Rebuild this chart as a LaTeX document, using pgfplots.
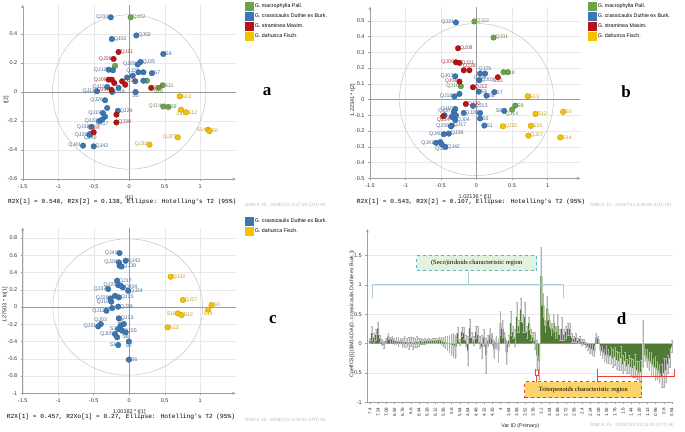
\documentclass[border=0pt]{standalone}
\usepackage{pgfplots}
\usepackage{pgfplotstable}
\pgfplotsset{compat=1.18}
\usetikzlibrary{arrows.meta}
\usepackage{fontspec}
\setmainfont{Liberation Sans}
\newfontfamily\monof{Liberation Mono}
\newfontfamily\serf{Liberation Serif}

\definecolor{cgreen}{HTML}{6DA34D}
\definecolor{cblue}{HTML}{3A78B5}
\definecolor{cred}{HTML}{B81414}
\definecolor{cyel}{HTML}{F5C200}
\definecolor{lgreen}{HTML}{5E8C45}
\definecolor{lblue}{HTML}{4C6C96}
\definecolor{lred}{HTML}{A83A3A}
\definecolor{lyel}{HTML}{C99C1A}
\definecolor{barg}{HTML}{4F7A33}
\definecolor{secofill}{HTML}{E4F1DC}
\definecolor{secoline}{HTML}{4DB6E2}
\definecolor{secobr}{HTML}{A9CFD8}
\definecolor{trifill}{HTML}{FCD46A}
\definecolor{triline}{HTML}{E8413A}

\pgfplotsset{
  score/.style={
    scale only axis, anchor=south west,
    axis lines=left,
    axis line style={draw=gray!75, -{Stealth[length=3.5pt,width=3pt]}},
    every tick/.style={gray!75, thin}, tick align=outside, major tick length=2pt,
    grid=major, grid style={gray!18, line width=0.3pt},
    tick label style={font=\fontsize{5.5}{6}\selectfont, text=black!80},
    /pgf/number format/assume math mode=true,
    label style={font=\fontsize{5.5}{6}\selectfont, text=black!85},
    clip=false,
    legend style={draw=none, fill=none, font=\fontsize{5.3}{6}\selectfont, anchor=north west, row sep=1.6pt, inner sep=0pt, nodes={inner sep=1.2pt}},
    legend cell align=left,
  },
  grp/.style 2 args={only marks, mark=*, mark size=2.8pt,
    mark options={fill=#1, draw=#1!75!black, line width=0.3pt},
    nodes near coords, point meta=explicit symbolic,
    visualization depends on={value \thisrow{a}\as\anc},
    nodes near coords style={anchor=\anc, text=#2, font=\fontsize{5.3}{6}\selectfont, inner sep=1.8pt},
    legend image code/.code={\fill[#1] (0pt,-4pt) rectangle (8pt,4pt);}},
}

\pgfplotstableread{
i v e
0 0.05 0.05
1 0.18 0.12
2 0.10 0.08
3 0.15 0.10
4 0.26 0.10
5 0.08 0.06
6 0.02 0.05
7 -0.02 0.06
8 0.05 0.05
9 0.12 0.05
10 0.06 0.05
11 0.08 0.05
12 0.04 0.05
13 0.05 0.06
14 0.03 0.08
15 0.05 0.05
16 0.02 0.08
17 0.03 0.10
18 0.02 0.08
19 0.01 0.10
20 0.03 0.08
21 0.01 0.10
22 0.02 0.08
23 0.03 0.09
24 0.02 0.07
25 0.04 0.05
26 0.03 0.04
27 0.04 0.05
28 0.04 0.04
29 0.05 0.05
30 0.04 0.04
31 0.05 0.05
32 0.05 0.04
33 0.05 0.05
34 0.06 0.05
35 0.05 0.06
36 0.03 0.08
37 0.02 0.10
38 0.01 0.12
39 0.00 0.15
40 -0.02 0.18
41 -0.03 0.20
42 -0.05 0.20
43 0.18 0.10
44 0.02 0.05
45 0.20 0.08
46 0.18 0.10
47 0.05 0.10
48 -0.12 0.25
49 0.26 0.15
50 0.10 0.10
51 0.05 0.08
52 0.20 0.10
53 0.15 0.15
54 0.02 0.10
55 -0.05 0.20
56 0.10 0.15
57 -0.20 0.30
58 0.05 0.10
59 0.15 0.12
60 0.08 0.10
61 -0.10 0.15
62 0.02 0.10
63 -0.12 0.20
64 0.35 0.20
65 0.25 0.15
66 0.10 0.10
67 -0.15 0.20
68 0.05 0.10
69 0.35 0.20
70 0.20 0.10
71 0.10 0.15
72 0.45 0.25
73 0.30 0.10
74 0.58 0.20
75 0.35 0.15
76 0.45 0.25
77 0.20 0.10
78 0.35 0.10
79 0.15 0.10
80 0.10 0.10
81 0.05 0.15
82 -0.20 0.25
83 -0.30 0.30
84 1.15 0.50
85 0.65 0.20
86 0.30 0.10
87 0.60 0.20
88 0.40 0.10
89 0.25 0.10
90 0.35 0.15
91 0.20 0.10
92 0.30 0.20
93 0.15 0.10
94 0.25 0.20
95 0.15 0.10
96 0.20 0.10
97 0.25 0.10
98 0.25 0.10
99 0.10 0.08
100 0.08 0.05
101 0.10 0.08
102 0.05 0.05
103 0.08 0.05
104 0.02 0.05
105 0.03 0.04
106 -0.02 0.05
107 -0.05 0.06
108 -0.08 0.08
109 -0.10 0.10
110 -0.12 0.10
111 0.10 0.08
112 0.08 0.05
113 -0.12 0.08
114 -0.15 0.10
115 -0.20 0.10
116 -0.18 0.15
117 -0.22 0.12
118 -0.20 0.15
119 -0.25 0.15
120 -0.22 0.15
121 -0.28 0.15
122 -0.30 0.15
123 -0.25 0.20
124 -0.35 0.15
125 -0.30 0.15
126 -0.38 0.12
127 -0.35 0.15
128 -0.40 0.15
129 -0.42 0.15
130 -0.38 0.20
131 -0.45 0.15
132 -0.50 0.20
133 -0.48 0.20
134 0.00 0.40
135 -0.20 0.10
136 -0.25 0.15
137 -0.30 0.15
138 -0.35 0.20
139 -0.40 0.15
140 -0.42 0.20
141 -0.45 0.15
142 -0.50 0.15
143 -0.55 0.20
144 -0.50 0.25
145 -0.45 0.20
146 -0.35 0.15
147 -0.25 0.15
148 -0.05 0.10
}\coefd

\begin{document}
\begin{tikzpicture}
\path[use as bounding box] (0pt,0pt) rectangle (685pt,431pt);

% ---------------- panel a ----------------
\begin{axis}[score, at={(22.7pt,252pt)}, width=213pt, height=174pt,
  xmin=-1.5, xmax=1.5, ymin=-0.6, ymax=0.6,
  xtick={-1.5,-1,-0.5,0,0.5,1}, ytick={-0.6,-0.4,-0.2,0,0.2,0.4},
  xlabel={t[1]}, ylabel={t[2]},
  ylabel style={at={(axis description cs:-0.078,0.454)}, anchor=center},
  legend style={at={(1.044,1.017)}}]
\draw[gray!80] (axis cs:0,-0.6) -- (axis cs:0,0.6);
\draw[gray!80] (axis cs:-1.5,0) -- (axis cs:1.5,0);
\draw[gray!55] (axis cs:0,0) ellipse [x radius=1.08, y radius=0.532];
\addplot[grp={cgreen}{lgreen}] table[meta=l] {
x y l a
0.02 0.515 QJ22 west
-0.20 0.18 {} west
0.25 0.078 {} west
0.47 0.046 S11 west
0.41 0.028 S18 north
0.48 -0.10 QJ14 east
0.55 -0.103 S9 west
};
\addlegendentry{G. macrophylla Pall.}
\addplot[grp={cblue}{lblue}] table[meta=l] {
x y l a
-0.26 0.515 QJ31 east
0.10 0.39 QJ02 west
-0.245 0.365 QJ03 west
0.48 0.262 S6 west
0.16 0.207 QJ25 west
0.12 0.19 QJ05 east
-0.29 0.154 QJ12 east
-0.23 0.15 {} west
0.13 0.136 {} west
0.20 0.136 {} west
0.32 0.13 S7 west
-0.03 0.10 {} west
0.05 0.113 QJ23 south east
0.085 0.074 {} west
0.20 0.078 {} west
-0.31 0.034 QJ15 east
-0.24 0.0 {} west
-0.455 0.005 QJ11 east
-0.15 0.028 QJ18 north west
0.09 0.0 S5 north
-0.34 -0.057 QJ26 east
-0.31 -0.11 {} west
-0.16 -0.13 QJ24 west
-0.37 -0.145 QJ19 east
-0.34 -0.17 {} west
-0.42 -0.20 QJ23 east
-0.38 -0.19 QJ17 north west
-0.53 -0.24 QJ39 east
-0.56 -0.295 QJ29 east
-0.55 -0.29 QJ40 north west
-0.65 -0.37 QJ41 east
-0.50 -0.375 QJ42 west
};
\addlegendentry{G. crassicaulis Duthie ex Burk.}
\addplot[grp={cred}{lred}] table[meta=l] {
x y l a
-0.15 0.276 QJ21 west
-0.22 0.228 QJ08 east
-0.29 0.085 QJ09 east
-0.244 0.085 {} west
-0.21 0.062 {} west
-0.10 0.074 QJ35 west
-0.056 0.05 {} west
-0.25 0.015 QJ07 east
0.31 0.028 S10 west
-0.18 -0.156 {} west
-0.18 -0.21 QJ30 west
-0.50 -0.278 QJ34 south west
};
\addlegendentry{G. straminea Maxim.}
\addplot[grp={cyel}{lyel}] table[meta=l] {
x y l a
0.71 -0.03 S13 west
0.73 -0.122 S16 north
0.80 -0.14 S12 west
1.11 -0.26 S14 east
1.13 -0.27 S0 west
0.685 -0.313 QJ27 east
0.286 -0.363 QJ32 east
};
\addlegendentry{G. dahurica Fisch.}
\end{axis}

% ---------------- panel b ----------------
\begin{axis}[score, at={(370pt,252.7pt)}, width=210.2pt, height=171.6pt,
  xmin=-1.5, xmax=1.46, ymin=-0.5, ymax=0.59,
  xtick={-1.5,-1,-0.5,0,0.5,1}, ytick={-0.5,-0.4,-0.3,-0.2,-0.1,0,0.1,0.2,0.3,0.4,0.5},
  xlabel={1.02136 * t[1]}, ylabel={1.22341 * t[2]},
  ylabel style={at={(axis description cs:-0.082,0.456)}, anchor=center},
  legend style={at={(1.037,1.027)}}]
\draw[gray!80] (axis cs:0,-0.5) -- (axis cs:0,0.59);
\draw[gray!80] (axis cs:-1.5,0) -- (axis cs:1.46,0);
\draw[gray!55] (axis cs:0,0) ellipse [x radius=1.085, y radius=0.483];
\addplot[grp={cgreen}{lgreen}] table[meta=l] {
x y l a
-0.03 0.496 QJ22 west
0.24 0.394 QJ01 west
0.38 0.174 S18 west
0.44 0.174 {} west
-0.22 0.085 QJ16 east
0.545 -0.038 S9 west
0.50 -0.064 QJ14 north
};
\addlegendentry{G. macrophylla Pall.}
\addplot[grp={cblue}{lblue}] table[meta=l] {
x y l a
-0.29 0.49 QJ31 east
0.12 0.165 QJ25 south west
0.05 0.165 QJ05 north east
-0.30 0.148 QJ03 east
0.04 0.123 QJ02 west
0.03 0.05 S4 west
0.25 0.047 S7 west
0.14 0.025 S8 west
-0.31 0.02 QJ18 east
-0.24 0.036 {} west
-0.05 -0.04 QJ13 west
-0.30 -0.06 QJ15 east
-0.32 -0.08 {} west
-0.29 -0.10 {} west
-0.35 -0.11 {} west
-0.45 -0.10 QJ37 south east
-0.18 -0.085 {} west
0.05 -0.085 QJ28 east
0.05 -0.12 S5 west
0.39 -0.072 S6 east
0.11 -0.165 S1 west
-0.30 -0.13 QJ04 west
-0.35 -0.165 QJ17 west
-0.39 -0.216 QJ36 west
-0.46 -0.22 QJ40 east
-0.36 -0.17 QJ39 east
-0.57 -0.275 QJ41 east
-0.51 -0.27 {} west
-0.49 -0.285 QJ29 north
-0.44 -0.30 QJ42 west
};
\addlegendentry{G. crassicaulis Duthie ex Burk.}
\addplot[grp={cred}{lred}] table[meta=l] {
x y l a
-0.26 0.326 QJ08 west
-0.29 0.237 QJ09 east
-0.24 0.233 QJ21 west
-0.18 0.186 {} west
-0.10 0.186 QJ38 south west
0.30 0.142 S10 north
-0.24 0.114 QJ06 east
-0.05 0.078 QJ12 west
-0.15 -0.028 QJ30 west
-0.47 -0.106 QJ34 north east
};
\addlegendentry{G. straminea Maxim.}
\addplot[grp={cyel}{lyel}] table[meta=l] {
x y l a
0.72 0.021 S13 west
0.83 -0.091 S12 west
1.22 -0.078 S0 west
0.765 -0.167 S16 west
0.73 -0.229 QJ27 west
1.18 -0.24 S14 west
0.37 -0.17 QJ32 west
};
\addlegendentry{G. dahurica Fisch.}
\end{axis}

% ---------------- panel c ----------------
\begin{axis}[score, at={(22.7pt,37.7pt)}, width=213pt, height=165.6pt,
  xmin=-1.5, xmax=1.5, ymin=-1, ymax=0.92,
  xtick={-1.5,-1,-0.5,0,0.5,1}, ytick={-1,-0.8,-0.6,-0.4,-0.2,0,0.2,0.4,0.6,0.8},
  xlabel={1.00182 * t[1]}, ylabel={1.27503 * to[1]},
  ylabel style={at={(axis description cs:-0.083,0.533)}, anchor=center},
  legend style={at={(1.044,1.065)}}]
\draw[gray!80] (axis cs:0,-1) -- (axis cs:0,0.92);
\draw[gray!80] (axis cs:-1.5,0) -- (axis cs:1.5,0);
\draw[gray!55] (axis cs:-0.02,0) ellipse [x radius=1.055, y radius=0.79];
\addplot[grp={cblue}{lblue}] table[meta=l] {
x y l a
-0.136 0.626 QJ41 east
-0.05 0.537 QJ42 west
-0.145 0.518 QJ28 east
-0.136 0.48 {} west
-0.108 0.47 QJ39 west
-0.17 0.305 QJ17 west
-0.09 0.228 QJ04 west
-0.155 0.255 QJ25 east
-0.12 0.247 {} west
-0.296 0.209 QJ37 east
-0.014 0.189 QJ24 west
-0.20 0.131 {} west
-0.146 0.112 QJ15 west
-0.263 0.10 QJ26 east
-0.253 0.062 QJ16 east
-0.32 -0.043 QJ11 east
-0.24 -0.012 {} west
-0.155 0.004 QJ38 west
-0.146 -0.131 QJ13 west
-0.40 -0.197 QJ03 south east
-0.437 -0.224 QJ31 east
-0.122 -0.216 S5 south west
-0.075 -0.197 {} west
-0.155 -0.255 S3 east
-0.10 -0.274 QJ25 west
-0.05 -0.294 S8 north west
-0.20 -0.313 QJ05 east
-0.17 -0.35 {} west
-0.155 -0.44 S1 east
-0.005 -0.40 S7 north
-0.005 -0.61 S6 west
};
\addlegendentry{G. crassicaulis Duthie ex Burk.}
\addplot[grp={cyel}{lyel}] table[meta=l] {
x y l a
0.583 0.352 QJ32 west
0.757 0.081 QJ27 west
1.16 0.023 S0 west
1.113 -0.031 S14 north
0.686 -0.073 S16 east
0.738 -0.093 S12 west
0.54 -0.236 S13 west
};
\addlegendentry{G. dahurica Fisch.}
\end{axis}

% ---------------- panel d ----------------
\begin{axis}[scale only axis, anchor=south west, at={(367.3pt,28.7pt)}, width=306pt, height=173.2pt,
  xmin=-1.3, xmax=148.7, ymin=-1, ymax=1.95,
  axis x line=bottom, axis y line=left,
  x axis line style={draw=gray!75, -}, y axis line style={draw=gray!75, -{Stealth[length=3.5pt,width=3pt]}},
  every tick/.style={gray!75, thin}, tick align=outside, major tick length=2pt,
  ymajorgrids, grid style={gray!18, line width=0.3pt},
  ytick={-1,-0.5,0,0.5,1,1.5},
  xtick={0,4,...,148},
  xticklabels={7.4,7.24,7.08,6.92,6.76,6.6,6.44,6.28,6.12,5.96,5.8,5.64,4.64,4.48,4.32,4.16,4,3.84,3.68,3.52,3.36,3.2,3.04,2.88,2.72,2.56,2.4,2.24,2.08,1.92,1.76,1.6,1.44,1.28,1.12,0.96,0.8,0.64},
  xticklabel style={rotate=90, anchor=east, font=\fontsize{4.6}{5}\selectfont, text=black!80},
  yticklabel style={font=\fontsize{5.5}{6}\selectfont, text=black!80},
  /pgf/number format/assume math mode=true,
  ylabel={CoeffCS[1](\$M14.DA(G. crassicaulis Duthie ex Burk.))},
  ylabel style={at={(axis description cs:-0.05,0.51)}, anchor=center},
  xlabel={Var ID (Primary)},
  label style={font=\fontsize{5.3}{6}\selectfont, text=black!85},
  clip=false]
\addplot[ybar, bar width=1.9pt, bar shift=0pt, draw=none, fill=none, forget plot,
  error bars/.cd, y dir=both, y explicit, error mark=none,
  error bar style={draw=gray!25, line width=1.9pt}]
  table[x=i, y=v, y error=e] {\coefd};
\addplot[ybar, bar width=1.9pt, bar shift=0pt, draw=none, fill=barg, forget plot]
  table[x=i, y=v] {\coefd};
\addplot[ybar, bar width=1.9pt, bar shift=0pt, draw=none, fill=none, forget plot,
  error bars/.cd, y dir=both, y explicit,
  error bar style={draw=gray!60, line width=0.35pt},
  error mark options={draw=gray!60, mark size=0.8pt, rotate=90}]
  table[x=i, y=v, y error=e] {\coefd};
\end{axis}

% annotations panel d
\draw[secobr, line width=0.6pt] (372.3pt,132.7pt) -- (372.3pt,146.3pt) -- (563.3pt,146.3pt) -- (563.3pt,132.7pt);
\draw[secobr, line width=0.6pt] (468.3pt,146.3pt) -- (468.3pt,160pt);
\node[draw=secoline, dashed, line width=0.9pt, fill=secofill, minimum width=120pt, minimum height=15pt, inner sep=1pt,
  font=\serf\fontsize{6.5}{7}\selectfont] at (476.7pt,167.7pt) {(Seco)iridoids characteristic region};
\draw[triline, line width=0.6pt] (597.7pt,62pt) -- (597.7pt,54.7pt) -- (674.3pt,54.7pt) -- (674.3pt,62pt);
\draw[triline, line width=0.6pt] (597.7pt,54.7pt) -- (597.7pt,49.3pt);
\draw[triline, line width=0.6pt] (535pt,62pt) -- (535pt,56pt) -- (538.5pt,56pt) -- (538.5pt,62pt);
\draw[triline, line width=0.6pt] (536.7pt,56pt) -- (536.7pt,49.3pt);
\node[draw=triline, dashed, line width=0.9pt, fill=trifill, minimum width=117pt, minimum height=16pt, inner sep=1pt,
  font=\serf\fontsize{6.5}{7}\selectfont] at (583.2pt,41.3pt) {Triterpenoids characteristic region};

% panel letters
\node[font=\serf\bfseries\fontsize{17}{18}\selectfont] at (267pt,339pt) {a};
\node[font=\serf\bfseries\fontsize{17}{18}\selectfont] at (626pt,339pt) {b};
\node[font=\serf\bfseries\fontsize{17}{18}\selectfont] at (273pt,111pt) {c};
\node[font=\serf\bfseries\fontsize{17}{18}\selectfont] at (621.7pt,112pt) {d};

% footers
\node[anchor=west, inner sep=0pt, font=\monof\fontsize{6.2}{7}\selectfont] at (8pt,229pt)
  {R2X[1] = 0.548, R2X[2] = 0.138, Ellipse: Hotelling\textquotesingle s T2 (95\%)};
\node[anchor=west, inner sep=0pt, font=\monof\fontsize{6.2}{7}\selectfont] at (356.7pt,228.7pt)
  {R2X[1] = 0.543, R2X[2] = 0.107, Ellipse: Hotelling\textquotesingle s T2 (95\%)};
\node[anchor=west, inner sep=0pt, font=\monof\fontsize{6.2}{7}\selectfont] at (6.7pt,14.3pt)
  {R2X[1] = 0.457, R2Xo[1] = 0.27, Ellipse: Hotelling\textquotesingle s T2 (95\%)};
\node[anchor=west, inner sep=0pt, text=gray!55, font=\fontsize{4.6}{5}\selectfont] at (245pt,226pt) {SIMCA 15 - 2018/7/11 8:37:19 (UTC+8)};
\node[anchor=west, inner sep=0pt, text=gray!55, font=\fontsize{4.6}{5}\selectfont] at (590pt,226pt) {SIMCA 15 - 2018/7/11 8:38:08 (UTC+8)};
\node[anchor=west, inner sep=0pt, text=gray!55, font=\fontsize{4.6}{5}\selectfont] at (245pt,11pt) {SIMCA 15 - 2018/7/11 8:39:22 (UTC+8)};
\node[anchor=west, inner sep=0pt, text=gray!55, font=\fontsize{4.6}{5}\selectfont] at (590pt,6pt) {SIMCA 15 - 2018/7/23 22:14:29 (UTC+8)};
\end{tikzpicture}
\end{document}
